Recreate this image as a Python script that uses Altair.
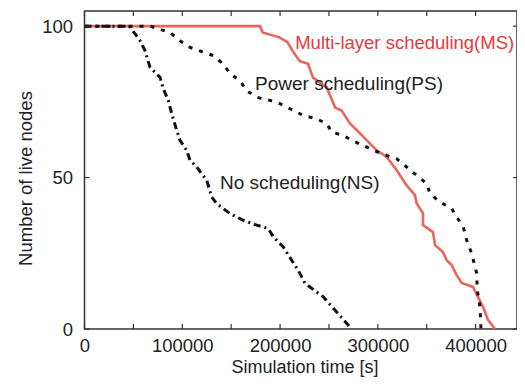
import altair as alt
import pandas as pd

# Multi-layer scheduling (MS)
ms_x = [0, 179500, 182200, 199400, 207600, 212700, 219900, 228600, 233700, 247700, 256300, 263000,
        271500, 283500, 298800, 309100, 319300, 329500, 338000, 339700, 346200, 346200, 356400,
        358500, 366600, 370400, 375500, 380600, 385800, 397300, 402400, 407600, 412700, 419800]
ms_y = [100, 100, 97.9, 96.3, 94.7, 91.9, 88.5, 87.6, 83.0, 79.8, 73.1, 72.1,
        67.9, 64.0, 59.0, 56.8, 52.4, 47.4, 44.2, 41.5, 38.2, 34.3, 32.0,
        27.7, 25.4, 22.7, 21.1, 17.8, 15.2, 13.9, 10.6, 7.3, 3.0, 0]

# Power scheduling (PS)
ps_x = [0, 67000, 87400, 97700, 107900, 121500, 131700, 141900, 148800, 159000, 165900, 176100,
        189700, 199900, 213500, 223800, 237500, 247700, 252800, 264700, 273300, 285100, 295400,
        309100, 319300, 329500, 339700, 350000, 353300, 363600, 375500, 380600, 387400, 390900,
        396000, 401100, 401700, 404500, 405500]
ps_y = [100, 100, 97.9, 95.2, 93.0, 91.4, 90.3, 87.5, 84.3, 82.0, 78.7, 76.5,
        75.5, 74.4, 72.2, 70.5, 69.4, 67.8, 65.0, 63.9, 62.3, 60.6, 59.0,
        57.3, 56.2, 53.5, 50.7, 48.0, 44.7, 41.9, 39.8, 37.0, 33.7, 29.3,
        24.9, 18.4, 12.9, 7.3, 0]

# No scheduling (NS)
ns_x = [0, 46000, 56800, 61900, 67000, 77200, 80600, 85700, 89200, 94300, 97700, 104500, 107900,
        114700, 125000, 130100, 135200, 148800, 162400, 176100, 188000, 193100, 203300, 211900,
        218600, 225500, 244200, 273300]
ns_y = [100, 100, 95.2, 91.9, 86.4, 83.1, 79.3, 75.5, 71.1, 65.6, 62.3, 59.0, 55.7,
        53.5, 49.1, 43.6, 41.4, 38.1, 35.9, 34.3, 33.2, 30.4, 27.1, 22.7,
        19.4, 15.1, 10.6, 0]

label_text = ["Multi-layer scheduling(MS)", "Power scheduling(PS)", "No scheduling(NS)"]
label_x = [215500, 174400, 138600]
label_y = [94.3, 81.0, 48.2]
label_color = ["#e8383d", "#222222", "#222222"]
label_size = [18.5, 19, 19]

x_ticks = [0, 50000, 100000, 150000, 200000, 250000, 300000, 350000, 400000]
x_labels = [0, 100000, 200000, 300000, 400000]
y_ticks = [0, 50, 100]

W, H = 432.5, 318
FONT = "Liberation Sans"

xs = alt.Scale(domain=[0, 442330], nice=False, zero=False)
ys = alt.Scale(domain=[0, 105], nice=False, zero=False)


def series(xv, yv):
    return pd.DataFrame({"x": xv, "y": yv, "i": range(len(xv))})


xaxis = alt.Axis(values=x_labels, format="d", ticks=False, domain=False, grid=False,
                 labelFontSize=18.5, labelFont=FONT, labelColor="#222", labelPadding=7,
                 labelFlush=False, title="Simulation time [s]", titleFontSize=18,
                 titleFont=FONT, titleFontWeight="normal", titleColor="#222",
                 titleY=38.5, titleBaseline="middle", titleX=220)
yaxis = alt.Axis(values=y_ticks, ticks=False, domain=False, grid=False,
                 labelFontSize=18.5, labelFont=FONT, labelColor="#222", labelPadding=12,
                 title="Number of live nodes", titleFontSize=18.5, titleFont=FONT,
                 titleFontWeight="normal", titleColor="#222", titleX=-59, titleY=167,
                 titleAngle=-90, titleBaseline="middle", titleAlign="center")

ms = alt.Chart(series(ms_x, ms_y)).mark_line(color="#e9665a", strokeWidth=2.6).encode(
    x=alt.X("x:Q", scale=xs, axis=xaxis),
    y=alt.Y("y:Q", scale=ys, axis=yaxis),
    order="i:Q",
)
ps = alt.Chart(series(ps_x, ps_y)).mark_line(color="#111111", strokeWidth=3,
                                              strokeDash=[4, 7]).encode(
    x="x:Q", y="y:Q", order="i:Q")
ns = alt.Chart(series(ns_x, ns_y)).mark_line(color="#111111", strokeWidth=3,
                                              strokeDash=[7, 4, 2, 4]).encode(
    x="x:Q", y="y:Q", order="i:Q")

labels = alt.Chart(pd.DataFrame({"t": label_text, "x": label_x, "y": label_y,
                                 "c": label_color, "s": label_size})).mark_text(
    align="left", baseline="middle", font=FONT).encode(
    x="x:Q", y="y:Q", text="t:N", color=alt.Color("c:N", scale=None),
    size=alt.Size("s:Q", scale=None))

xt = pd.DataFrame({"x": x_ticks})
yt = pd.DataFrame({"y": y_ticks})
tick_bottom = alt.Chart(xt).mark_rule(color="#333", strokeWidth=1.2).encode(
    x="x:Q", y=alt.value(H), y2=alt.value(H - 5))
tick_top = alt.Chart(xt).mark_rule(color="#333", strokeWidth=1.2).encode(
    x="x:Q", y=alt.value(0), y2=alt.value(5))
tick_left = alt.Chart(yt).mark_rule(color="#333", strokeWidth=1.2).encode(
    y="y:Q", x=alt.value(0), x2=alt.value(5))
tick_right = alt.Chart(yt).mark_rule(color="#333", strokeWidth=1.2).encode(
    y="y:Q", x=alt.value(W), x2=alt.value(W - 4))

chart = alt.layer(ms, ps, ns, labels, tick_bottom, tick_top, tick_left, tick_right).properties(
    width=W, height=H,
    autosize=alt.AutoSizeParams(type="none"),
    padding={"left": 76.5, "top": 3, "right": 0, "bottom": 50},
    background="white",
).configure_view(stroke="#333", strokeWidth=1.5)

chart.save("out.html", embed_options={"renderer": "svg", "actions": False})
